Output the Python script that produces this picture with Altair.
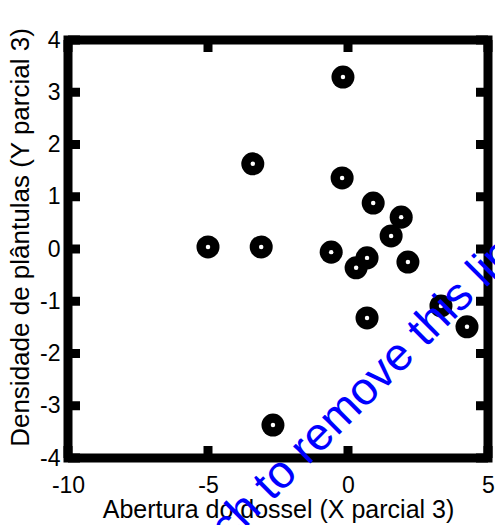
import altair as alt
import pandas as pd

# Data
x_vals = [-5.0, -3.1, -3.4, -0.18, -0.21, 0.9, 1.9, 1.54, -0.6, 0.68, 0.29, 2.14, 0.68, 3.32, 4.25, -2.68]
y_vals = [0.04, 0.04, 1.63, 3.29, 1.36, 0.88, 0.61, 0.25, -0.06, -0.17, -0.36, -0.25, -1.32, -1.09, -1.49, -3.37]
x_ticks = [-10, -5, 0, 5]
y_ticks = [-4, -3, -2, -1, 0, 1, 2, 3, 4]
x_title = "Abertura do dossel (X parcial 3)"
y_title = "Densidade de plântulas (Y parcial 3)"
watermark = "Touch to remove this line"

pts = pd.DataFrame({"x": x_vals, "y": y_vals})
xt = pd.DataFrame({"x": x_ticks})
yt = pd.DataFrame({"y": y_ticks})
wm = pd.DataFrame({"w": [watermark]})

xs = alt.Scale(domain=[-10, 5], nice=False, zero=False)
ys = alt.Scale(domain=[-4, 4], nice=False, zero=False)

x_axis = alt.Axis(values=x_ticks, ticks=False, domain=False, grid=False, labelFontSize=23,
                  labelPadding=34, labelBaseline="alphabetic", labelFlush=False,
                  labelExpr="'' + datum.value",
                  title=x_title, titleFontSize=25, titleFontWeight="normal",
                  titleBaseline="alphabetic", titleY=59, labelColor="black", titleColor="black")
y_axis = alt.Axis(values=y_ticks, ticks=False, domain=False, grid=False, labelFontSize=23,
                  labelPadding=8, labelFlush=False, labelExpr="'' + datum.value",
                  title=y_title, titleFontSize=26,
                  titleFontWeight="normal", titleBaseline="middle", titleX=-48, titleY=197,
                  titleAngle=270, labelColor="black", titleColor="black")

X = alt.X("x:Q", scale=xs, axis=x_axis)
Y = alt.Y("y:Q", scale=ys, axis=y_axis)

dots = alt.Chart(pts).mark_circle(color="black", opacity=1, size=530).encode(x=X, y=Y)
centers = alt.Chart(pts).mark_circle(color="white", opacity=1, size=20).encode(x=X, y=Y)

tick_style = dict(color="black", strokeWidth=9, strokeCap="butt")
xt_top = alt.Chart(xt).mark_rule(**tick_style).encode(x=X, y=alt.value(0), y2=alt.value(12))
xt_bot = alt.Chart(xt).mark_rule(**tick_style).encode(x=X, y=alt.value(418), y2=alt.value(406))
yt_left = alt.Chart(yt).mark_rule(**tick_style).encode(y=Y, x=alt.value(0), x2=alt.value(12))
yt_right = alt.Chart(yt).mark_rule(**tick_style).encode(y=Y, x=alt.value(420), x2=alt.value(408))

wm_text = alt.Chart(wm).mark_text(color="#0000FF", fontSize=46, angle=315, align="center",
                                  baseline="middle", font="Liberation Sans").encode(
    text="w:N", x=alt.value(278), y=alt.value(368))

chart = alt.layer(dots, centers, xt_top, xt_bot, yt_left, yt_right, wm_text).properties(
    width=420, height=418,
    autosize=alt.AutoSizeParams(type="none"),
    padding={"left": 68, "top": 40, "right": 7, "bottom": 67},
).configure(font="Liberation Sans").configure_view(stroke="black", strokeWidth=9)

chart.save("out.html", embed_options={"renderer": "svg", "actions": False})
